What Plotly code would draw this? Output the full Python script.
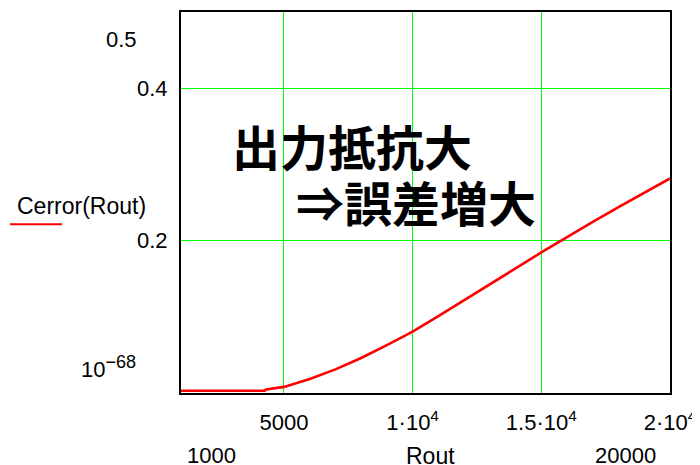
import plotly.graph_objects as go

# Data
rout = [1000, 2000, 3000, 4000, 4250, 4300, 5000, 5500, 6000, 7000, 8000, 9000, 10000,
        11000, 12000, 13000, 14000, 15000, 16000, 17000, 18000, 19000, 20000]
cerror = [0.003, 0.003, 0.003, 0.003, 0.003, 0.0045, 0.008, 0.013, 0.0185, 0.031, 0.046,
          0.0628, 0.0805, 0.101, 0.1215, 0.1425, 0.1635, 0.1845, 0.205, 0.2245,
          0.244, 0.263, 0.2815]

x_tickvals = [5000, 10000, 15000, 20000]
x_ticktext = ["5000", "1\u00b710<sup>4</sup>", "1.5\u00b710<sup>4</sup>", "2\u00b710<sup>4</sup>"]
y_tickvals = [0.2, 0.4]
y_ticktext = ["0.2", "0.4"]
x_limits = [1000, 20000]
y_limits = [0, 0.5]
y_limit_labels = ["10<sup><span style='font-size:18px'>\u221268</span></sup>", "0.5"]
x_limit_labels = ["1000", "20000"]
x_title = "Rout"
legend_label = "Cerror(Rout)"
note_line1 = "出力抵抗大"
note_line2 = "⇒誤差増大"

LAT = "Liberation Sans, Arial, sans-serif"
JP = "Noto Sans CJK JP"
NUM = 22

fig = go.Figure()
fig.add_trace(go.Scatter(x=rout, y=cerror, mode="lines",
                         line=dict(color="#ff0000", width=2.6), showlegend=False))

fig.update_layout(
    width=692, height=456,
    margin=dict(l=173, r=30, t=2, b=71),
    paper_bgcolor="white", plot_bgcolor="white",
    font=dict(family=LAT, size=NUM, color="black"),
    showlegend=False,
)
fig.update_xaxes(range=x_limits, tickvals=x_tickvals, ticktext=x_ticktext,
                 showgrid=True, gridcolor="#00ff00", gridwidth=1,
                 showline=True, linecolor="black", linewidth=2, mirror=True,
                 ticks="", ticklabelstandoff=9, zeroline=False,
                 tickfont=dict(family=LAT, size=NUM, color="black"))
fig.update_yaxes(range=y_limits, tickvals=y_tickvals, ticktext=y_ticktext,
                 showgrid=True, gridcolor="#00ff00", gridwidth=1,
                 showline=True, linecolor="black", linewidth=2, mirror=True,
                 ticks="", ticklabelstandoff=7, zeroline=False,
                 tickfont=dict(family=LAT, size=NUM, color="black"))

ann = []
# y limit labels
ann.append(dict(text=y_limit_labels[1], x=-0.086, y=0.9277, xref="paper", yref="paper",
                xanchor="right", yanchor="middle", showarrow=False,
                font=dict(family=LAT, size=NUM)))
ann.append(dict(text=y_limit_labels[0], x=-0.088, y=0.067, xref="paper", yref="paper",
                xanchor="right", yanchor="middle", showarrow=False,
                font=dict(family=LAT, size=NUM)))
# x limit labels and title
ann.append(dict(text=x_limit_labels[0], x=0.0082, y=-0.1645, xref="paper", yref="paper",
                xanchor="left", yanchor="middle", showarrow=False,
                font=dict(family=LAT, size=NUM)))
ann.append(dict(text=x_limit_labels[1], x=0.9755, y=-0.1645, xref="paper", yref="paper",
                xanchor="right", yanchor="middle", showarrow=False,
                font=dict(family=LAT, size=NUM)))
ann.append(dict(text=x_title, x=0.511, y=-0.1645, xref="paper", yref="paper",
                xanchor="center", yanchor="middle", showarrow=False,
                font=dict(family=LAT, size=23)))
# legend label
ann.append(dict(text=legend_label, x=-0.3395, y=0.4909, xref="paper", yref="paper",
                xanchor="left", yanchor="middle", showarrow=False,
                font=dict(family=LAT, size=23)))
# Japanese notes
ann.append(dict(text="<b>" + note_line1 + "</b>", x=0.3507, y=0.650, xref="paper", yref="paper",
                xanchor="center", yanchor="middle", showarrow=False,
                font=dict(family=JP, size=48, color="black")))
ann.append(dict(text="<b>" + note_line2 + "</b>", x=0.4806, y=0.504, xref="paper", yref="paper",
                xanchor="center", yanchor="middle", showarrow=False,
                font=dict(family=JP, size=48, color="black")))
fig.update_layout(annotations=ann)

fig.add_shape(type="line", xref="paper", yref="paper", x0=-0.3497, x1=-0.2434,
              y0=0.4426, y1=0.4426, line=dict(color="#ff0000", width=2))

fig.write_html("out.html")
